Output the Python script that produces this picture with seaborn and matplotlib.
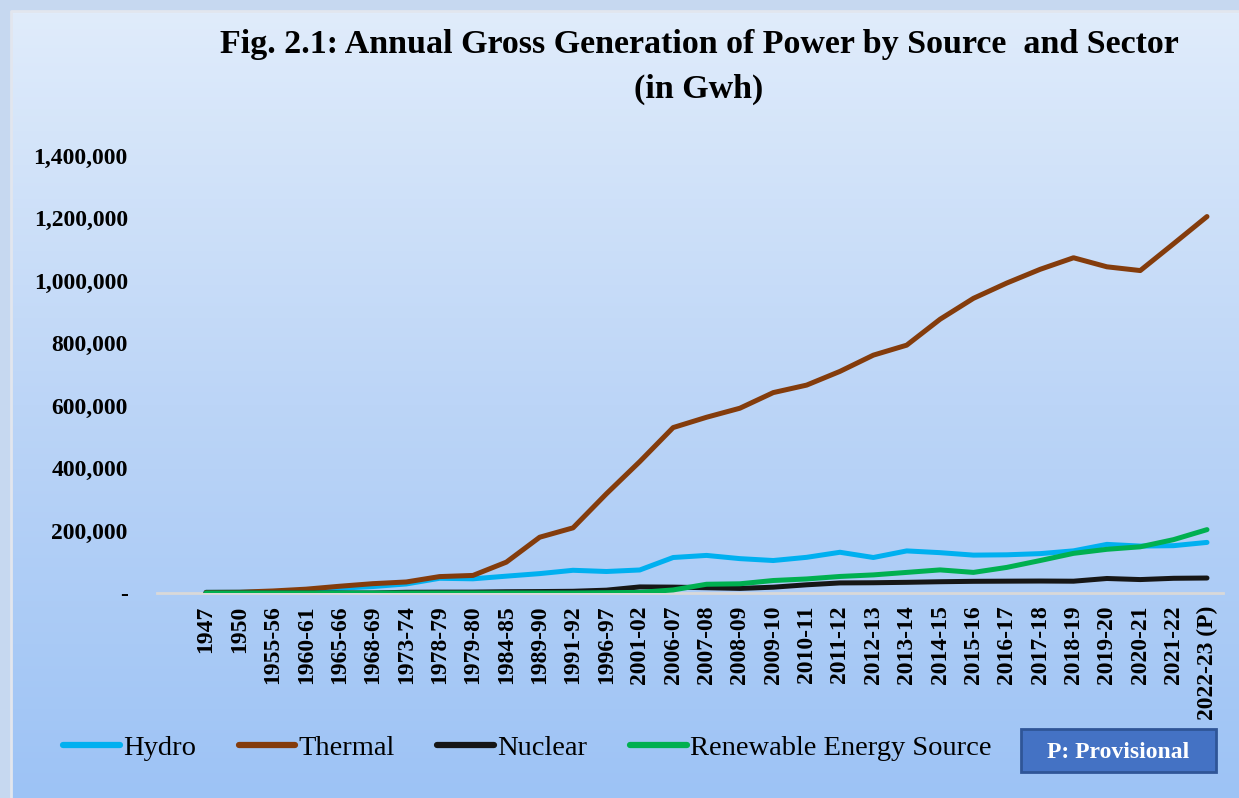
"""Annual gross generation of power by source (GWh), India, 1947 to 2022-23."""

import matplotlib

matplotlib.use("Agg")
import matplotlib.pyplot as plt  # noqa: E402
import numpy as np  # noqa: E402
import pandas as pd  # noqa: E402
import seaborn as sns  # noqa: E402
from matplotlib.colors import LinearSegmentedColormap  # noqa: E402
from matplotlib.patches import Rectangle  # noqa: E402
from matplotlib.ticker import FuncFormatter  # noqa: E402

YEARS = [
    "1947", "1950", "1955-56", "1960-61", "1965-66", "1968-69", "1973-74",
    "1978-79", "1979-80", "1984-85", "1989-90", "1991-92", "1996-97",
    "2001-02", "2006-07", "2007-08", "2008-09", "2009-10", "2010-11",
    "2011-12", "2012-13", "2013-14", "2014-15", "2015-16", "2016-17",
    "2017-18", "2018-19", "2019-20", "2020-21", "2021-22", "2022-23 (P)",
]
HYDRO = [
    2195, 2519, 4295, 7837, 15225, 20723, 28972, 47159, 45478, 53948, 62116,
    72757, 68901, 73759, 113720, 120387, 110099, 104060, 114257, 130511,
    113720, 134847, 129244, 121377, 122378, 126123, 135040, 155769, 150300,
    151627, 162099,
]
THERMAL = [
    2100, 2588, 6482, 12286, 21600, 29900, 35321, 52594, 56273, 98836,
    178697, 208747, 317917, 421000, 530000, 563000, 592000, 642000, 666000,
    710000, 762000, 794000, 877000, 944000, 993000, 1037000, 1074000,
    1045000, 1033000, 1119000, 1206000,
]
NUCLEAR = [
    0, 0, 0, 0, 0, 0, 2396, 2770, 2876, 4075, 4625, 5525, 9071, 19475, 18802,
    16957, 14713, 18636, 26266, 32287, 32866, 34228, 36102, 37414, 37916,
    38346, 37813, 46472, 43029, 47112, 48000,
]
RENEWABLE = [
    0, 0, 0, 0, 0, 0, 0, 0, 0, 0, 0, 0, 900, 2000, 9860, 28000, 29500, 40000,
    45000, 53000, 58000, 66000, 74000, 66000, 82000, 104000, 127000, 140000,
    148000, 171000, 203000,
]
SOURCES = ["Hydro", "Thermal", "Nuclear", "Renewable Energy Source"]
COLORS = ["#00b0f0", "#843c0c", "#161616", "#00b050"]
Y_TICKS = [0, 200000, 400000, 600000, 800000, 1000000, 1200000, 1400000]

W, H = 1239, 798


def build_frame() -> pd.DataFrame:
    series = dict(zip(SOURCES, [HYDRO, THERMAL, NUCLEAR, RENEWABLE]))
    rows = []
    for src, vals in series.items():
        for i, (yr, v) in enumerate(zip(YEARS, vals)):
            rows.append({"pos": i, "year": yr, "source": src, "gwh": v})
    return pd.DataFrame(rows)


def y_label(v, _pos):
    return "-" if v == 0 else f"{int(v):,}"


def main() -> None:
    sns.set_theme(style="white")
    plt.rcParams["font.family"] = ["Liberation Serif", "DejaVu Serif"]
    plt.rcParams["text.color"] = "black"
    plt.rcParams["xtick.color"] = "black"
    plt.rcParams["ytick.color"] = "black"

    fig = plt.figure(figsize=(W / 100, H / 100), dpi=100)
    fig.patch.set_facecolor("#c6d8f0")

    # gradient panel behind everything
    bg = fig.add_axes([0, 0, 1, 1], zorder=-10)
    bg.set_xlim(0, 1)
    bg.set_ylim(0, 1)
    bg.axis("off")
    cmap = LinearSegmentedColormap.from_list(
        "panel", ["#9dc3f5", "#bcd5f7", "#e0ecfb"]
    )
    grad = np.linspace(0, 1, 256).reshape(-1, 1)
    x0, y1 = 11 / W, 1 - 11 / H
    bg.imshow(grad, cmap=cmap, origin="lower", aspect="auto",
              extent=[x0, 1, 0, y1])
    bg.plot([x0, x0, 1], [0, y1, y1], color="#e2e6ee", lw=2)

    ax = fig.add_axes([157 / W, 205 / H, 1066 / W, 437 / H])
    ax.set_facecolor("none")

    df = build_frame()
    sns.lineplot(
        data=df, x="pos", y="gwh", hue="source", hue_order=SOURCES,
        palette=COLORS, linewidth=3.6, ax=ax, sort=False,
        solid_capstyle="round",
    )
    handles, labels = ax.get_legend_handles_labels()
    ax.get_legend().remove()

    ax.set_xlim(-1.47, len(YEARS) - 0.52)
    ax.set_ylim(0, 1400000)
    ax.set_yticks(Y_TICKS)
    ax.yaxis.set_major_formatter(FuncFormatter(y_label))
    ax.set_xticks(range(len(YEARS)))
    ax.set_xticklabels(YEARS, rotation=90, fontsize=17, fontweight="bold",
                       va="top")
    for t in ax.get_yticklabels():
        t.set_fontsize(17)
        t.set_fontweight("bold")
    ax.tick_params(axis="y", length=0, pad=21)
    ax.tick_params(axis="x", length=0, pad=9)
    ax.set_xlabel("")
    ax.set_ylabel("")
    ax.grid(False)
    for side in ["top", "right", "left"]:
        ax.spines[side].set_visible(False)
    ax.spines["bottom"].set_color("#d9d9d9")
    ax.spines["bottom"].set_linewidth(2)
    ax.spines["bottom"].set_zorder(0)

    fig.text(699 / W, 1 - 45 / H,
             "Fig. 2.1: Annual Gross Generation of Power by Source  and Sector",
             ha="center", va="center", fontsize=24.5, fontweight="bold")
    fig.text(699 / W, 1 - 89 / H, "(in Gwh)", ha="center", va="center",
             fontsize=24.5, fontweight="bold")

    for h in handles:
        h.set_linewidth(4.5)
        h.set_solid_capstyle("round")
    fig.legend(
        handles, labels, loc="center left", bbox_to_anchor=(63 / W, 1 - 748 / H),
        ncol=4, frameon=False, fontsize=20.5, handlelength=2.0,
        handletextpad=0.1, columnspacing=1.5, borderaxespad=0, borderpad=0,
    )

    fig.add_artist(Rectangle((1021 / W, 1 - 772 / H), 195 / W, 43 / H,
                             transform=fig.transFigure, facecolor="#4472c4",
                             edgecolor="#2f5597", lw=2))
    fig.text(1118 / W, 1 - 753 / H, "P: Provisional", ha="center",
             va="center", color="white", fontsize=17, fontweight="bold")

    fig.savefig("out.png", dpi=100)
    plt.close(fig)


if __name__ == "__main__":
    main()
